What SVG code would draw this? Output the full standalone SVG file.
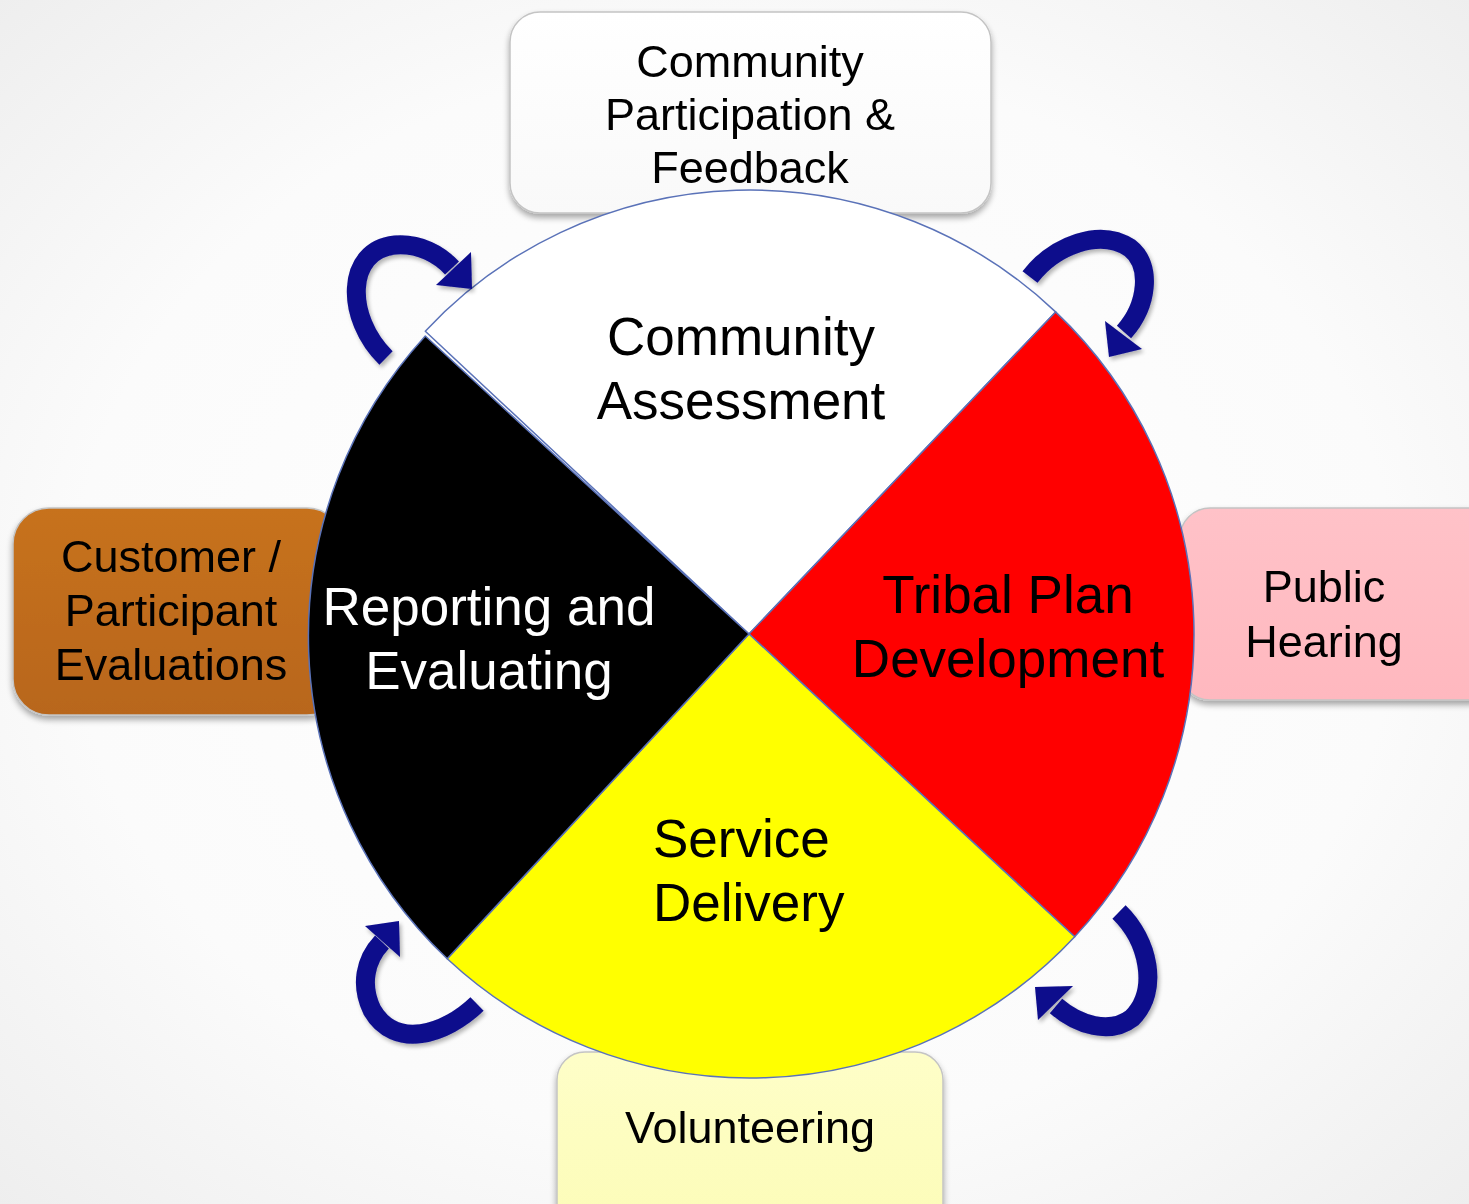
<svg xmlns="http://www.w3.org/2000/svg" width="1469" height="1204" viewBox="0 0 1469 1204">
<defs>
<radialGradient id="bg" cx="50%" cy="50%" r="75%">
<stop offset="0" stop-color="#ffffff"/><stop offset="0.6" stop-color="#fbfbfb"/><stop offset="1" stop-color="#ececec"/>
</radialGradient>
<linearGradient id="gWhite" x1="0" y1="0" x2="0" y2="1"><stop offset="0" stop-color="#ffffff"/><stop offset="1" stop-color="#f9f9f9"/></linearGradient>
<linearGradient id="gOrange" x1="0" y1="0" x2="0" y2="1"><stop offset="0" stop-color="#c7721d"/><stop offset="1" stop-color="#b8661a"/></linearGradient>
<linearGradient id="gPink" x1="0" y1="0" x2="0" y2="1"><stop offset="0" stop-color="#ffc2c8"/><stop offset="1" stop-color="#ffb8bf"/></linearGradient>
<linearGradient id="gYel" x1="0" y1="0" x2="0" y2="1"><stop offset="0" stop-color="#fefec8"/><stop offset="1" stop-color="#fcfcb8"/></linearGradient>
<filter id="sh" x="-10%" y="-10%" width="120%" height="130%">
<feGaussianBlur in="SourceAlpha" stdDeviation="3"/><feOffset dx="0" dy="4" result="b"/>
<feComponentTransfer><feFuncA type="linear" slope="0.35"/></feComponentTransfer>
<feMerge><feMergeNode/><feMergeNode in="SourceGraphic"/></feMerge>
</filter>
<filter id="ash" x="-20%" y="-20%" width="140%" height="140%">
<feGaussianBlur in="SourceAlpha" stdDeviation="2"/><feOffset dx="2" dy="3" result="b"/>
<feComponentTransfer><feFuncA type="linear" slope="0.3"/></feComponentTransfer>
<feMerge><feMergeNode/><feMergeNode in="SourceGraphic"/></feMerge>
</filter>
</defs>
<style>
text{font-family:"Liberation Sans",Arial,sans-serif;fill:#000}
.box{stroke:#c4c4c4;stroke-width:1.5}
.bt{font-size:45px;text-anchor:middle}
.st{font-size:53px;text-anchor:middle}
.sec{stroke:#5a72b8;stroke-width:1.5;stroke-linejoin:round}
.shaft{fill:none;stroke:#0b0b8c;stroke-width:19}
.head{fill:#0b0b8c}
</style>
<rect x="0" y="0" width="1469" height="1204" fill="url(#bg)"/>

<g id="box-top" filter="url(#sh)">
<rect class="box" x="510" y="12" width="481" height="201" rx="30" fill="url(#gWhite)"/>
<text class="bt" x="750" y="77">Community</text>
<text class="bt" x="750" y="130">Participation &amp;</text>
<text class="bt" x="750" y="183">Feedback</text>
</g>
<g id="box-left" filter="url(#sh)">
<rect class="box" x="13" y="508" width="330" height="207" rx="36" fill="url(#gOrange)" stroke="#a85e18"/>
<text class="bt" x="171" y="572">Customer /</text>
<text class="bt" x="171" y="626">Participant</text>
<text class="bt" x="171" y="680">Evaluations</text>
</g>
<g id="box-right" filter="url(#sh)">
<rect class="box" x="1180" y="508" width="320" height="192" rx="30" fill="url(#gPink)" stroke="#d8a6ab"/>
<text class="bt" x="1324" y="602">Public</text>
<text class="bt" x="1324" y="657">Hearing</text>
</g>
<g id="box-bottom" filter="url(#sh)">
<rect class="box" x="557" y="1052" width="386" height="180" rx="28" fill="url(#gYel)" stroke="#cfcf9a"/>
<text class="bt" x="750" y="1143">Volunteering</text>
</g>

<g id="wheel">
<g id="sector-white">
<path class="sec" d="M749 634 L425.3 331.2 A444 444 0 0 1 1055.6 311.9 Z" fill="#ffffff"/>
<text class="st" x="741" y="355">Community</text>
<text class="st" x="741" y="419">Assessment</text>
</g>
<g id="sector-red">
<path class="sec" d="M749 634 L1055.6 311.9 A444 444 0 0 1 1074.7 936.8 Z" fill="#ff0000"/>
<text class="st" x="1008" y="613">Tribal Plan</text>
<text class="st" x="1008" y="677">Development</text>
</g>
<g id="sector-yellow">
<path class="sec" d="M749 634 L1074.7 936.8 A444 444 0 0 1 447.2 958.7 Z" fill="#ffff00"/>
<text class="st" x="653" y="857" style="text-anchor:start">Service</text>
<text class="st" x="653" y="921" style="text-anchor:start">Delivery</text>
</g>
<g id="sector-black">
<path class="sec" d="M749 634 L447.2 958.7 A444 444 0 0 1 425.3 336 Z" fill="#000000"/>
<text class="st" x="489" y="625" style="fill:#ffffff">Reporting and</text>
<text class="st" x="489" y="689" style="fill:#ffffff">Evaluating</text>
</g>
</g>

<g id="connectors">
<g id="arrow-tl" filter="url(#ash)">
<path class="shaft" d="M386 358 C345 318 345 250 395 245 C420 243 440 255 452 268"/>
<polygon class="head" points="471,252 436,285 472,289"/>
</g>
<g id="arrow-tr" filter="url(#ash)">
<path class="shaft" d="M1030 277 C1055 245 1100 228 1130 248 C1152 265 1148 305 1124 332"/>
<polygon class="head" points="1105,321 1142,349 1109,357"/>
</g>
<g id="arrow-bl" filter="url(#ash)">
<path class="shaft" d="M477 1004 C445 1035 395 1050 372 1010 C360 985 365 960 382 942"/>
<polygon class="head" points="365,926 400,957 399,921"/>
</g>
<g id="arrow-br" filter="url(#ash)">
<path class="shaft" d="M1119 912 C1148 940 1160 990 1132 1018 C1110 1035 1078 1025 1056 1006"/>
<polygon class="head" points="1073,986 1038,1020 1035,987"/>
</g>
</g>
</svg>
